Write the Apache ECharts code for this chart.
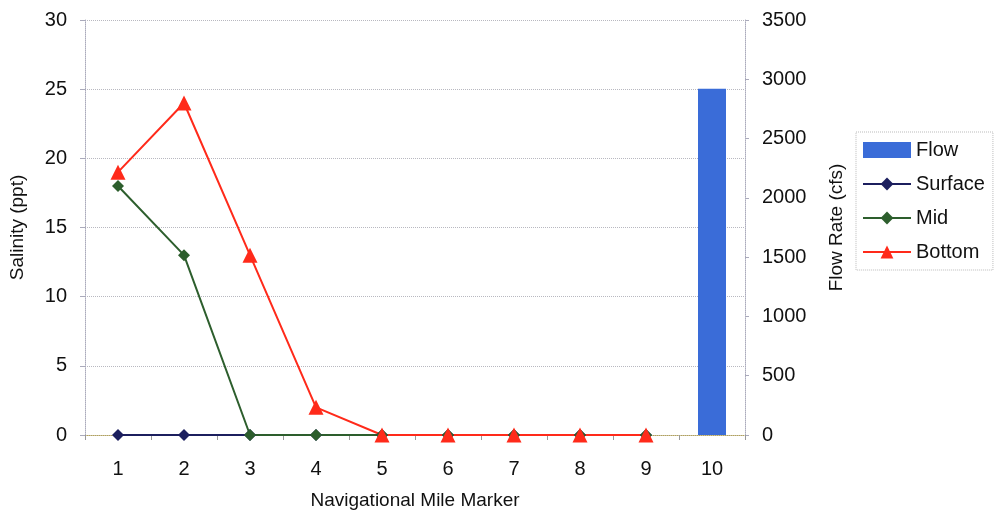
<!DOCTYPE html>
<html><head><meta charset="utf-8">
<script src="https://cdn.jsdelivr.net/npm/echarts@6/dist/echarts.min.js"></script>
<style>html,body{margin:0;padding:0;background:#fff}#c{width:1001px;height:521px}</style>
</head><body><div id="c"></div>
<script>
const categories = ['1','2','3','4','5','6','7','8','9','10'];
const flow = [null,null,null,null,null,null,null,null,null,2920];
const surface = [0,0,0,0,0,0,0,0,0,null];
const mid = [18,13,0,0,0,0,0,0,0,null];
const bottom = [19,24,13,2,0,0,0,0,0,null];

const font = 'Liberation Sans, Arial, sans-serif';
const chart = echarts.init(document.getElementById('c'));
chart.setOption({
  backgroundColor:'#fff',
  animation:false,
  grid:{left:85,right:256,top:20,bottom:86,show:false},
  legend:{
    orient:'vertical', left:856, top:132,
    itemWidth:48, itemHeight:16, itemGap:14,
    padding:[8,8,8,6],
    borderColor:'#bbb', borderWidth:1, borderType:'dotted',
    textStyle:{fontFamily:font,fontSize:20,color:'#111'},
    data:[{name:'Flow',icon:'rect'},'Surface','Mid','Bottom']
  },
  xAxis:{
    type:'category', data:categories, boundaryGap:true,
    name:'Navigational Mile Marker', nameLocation:'middle', nameGap:56,
    nameTextStyle:{fontFamily:font,fontSize:19,color:'#111'},
    axisLine:{lineStyle:{color:'#b0a060',type:'dotted',width:1}},
    axisTick:{show:true,length:5,lineStyle:{color:'#999'}},
    axisLabel:{fontFamily:font,fontSize:20,color:'#111',margin:24}
  },
  yAxis:[{
    type:'value', min:0, max:30, interval:5,
    name:'Salinity (ppt)', nameLocation:'middle', nameGap:58,
    nameTextStyle:{fontFamily:font,fontSize:19,color:'#111'},
    axisLine:{show:true,lineStyle:{color:'#aab',type:'dotted'}},
    axisTick:{show:true,length:5,lineStyle:{color:'#aab'}},
    axisLabel:{fontFamily:font,fontSize:20,color:'#111',margin:18},
    splitLine:{show:true,lineStyle:{color:'#b8b8c0',type:'dotted',width:1}}
  },{
    type:'value', min:0, max:3500, interval:500,
    name:'Flow Rate (cfs)', nameLocation:'middle', nameGap:82,
    nameTextStyle:{fontFamily:font,fontSize:19,color:'#111'},
    axisLine:{show:true,lineStyle:{color:'#aab',type:'dotted'}},
    axisTick:{show:true,length:4,lineStyle:{color:'#aab'}},
    axisLabel:{fontFamily:font,fontSize:20,color:'#111',margin:17,formatter:v=>String(v)},
    splitLine:{show:false}
  }],
  series:[
    {name:'Flow',type:'bar',yAxisIndex:1,data:flow,barWidth:28,
     itemStyle:{color:'#3a6cd8'}},
    {name:'Surface',type:'line',data:surface,symbol:'diamond',symbolSize:12,
     lineStyle:{color:'#1c1f5e',width:2},itemStyle:{color:'#1c1f5e'}},
    {name:'Mid',type:'line',data:mid,symbol:'diamond',symbolSize:12,
     lineStyle:{color:'#2d5e2d',width:2},itemStyle:{color:'#2d5e2d'}},
    {name:'Bottom',type:'line',data:bottom,symbol:'triangle',symbolSize:15,
     lineStyle:{color:'#ff2a1a',width:2},itemStyle:{color:'#ff2a1a'}}
  ]
});
</script></body></html>
